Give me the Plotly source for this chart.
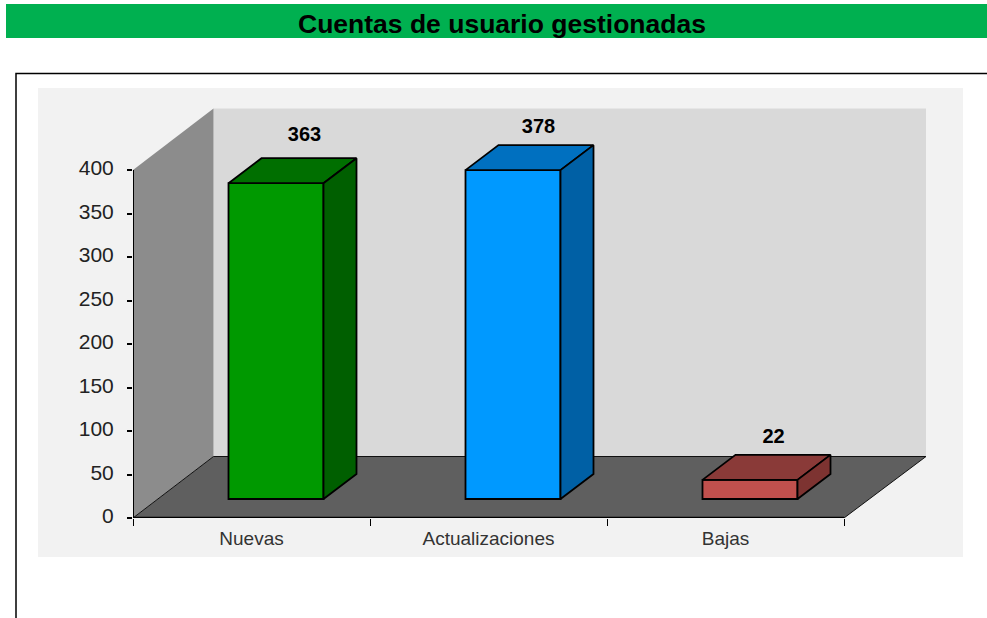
import plotly.graph_objects as go

categories = ["Nuevas", "Actualizaciones", "Bajas"]
values = [363, 378, 22]
front_colors = ["#009900", "#0099FF", "#C0504D"]
top_colors = ["#006F00", "#0070C0", "#8A3A38"]
side_colors = ["#005F00", "#0060A5", "#7D3331"]
y_ticks = [0, 50, 100, 150, 200, 250, 300, 350, 400]
title_text = "Cuentas de usuario gestionadas"

W, H = 987, 618
L, R, T, B = 133, 926, 108, 518
SLOT_PX, UNIT_PX = 237.0, 0.87

def dx(px):
    return px / SLOT_PX

def dy(px):
    return px / UNIT_PX

x_lo = -0.5
x_hi = x_lo + dx(R - L)
y_hi = dy(B - T)
y_max = max(y_ticks)
wall_dx, wall_dy = dx(80.5), dy(61.5)
bar_dx, bar_dy = dx(33), dy(25)
bar_w = dx(95)
x_end = x_lo + len(categories)
bar_shift_x = dx(24.5)
bar_shift_y = dy(19)
label_shift_x_px = [28.5, 25.5, 23.5]
label_lift_px = [12, 7, 7]

def paper_x(p):
    return (p - L) / (R - L)

def paper_y(p):
    return (B - p) / (B - T)

def poly(pts):
    return "M " + " L ".join(f"{a},{b}" for a, b in pts) + " Z"

fig = go.Figure()

shapes = [
    dict(type="rect", xref="paper", yref="paper", layer="below",
         x0=paper_x(38), x1=paper_x(963), y0=paper_y(557), y1=paper_y(88),
         fillcolor="#F2F2F2", line_width=0),
    dict(type="rect", xref="paper", yref="paper", layer="below",
         x0=paper_x(6), x1=paper_x(987), y0=paper_y(38), y1=paper_y(4),
         fillcolor="#00B050", line_width=0),
    dict(type="path", xref="paper", yref="paper", layer="below",
         path=poly([(paper_x(16), paper_y(618)), (paper_x(16), paper_y(73.5)),
                    (paper_x(987), paper_y(73.5))]).replace(" Z", ""),
         line=dict(color="#000000", width=1.5)),
    dict(type="path", xref="x", yref="y", layer="below",
         path=poly([(x_lo + wall_dx, wall_dy), (x_hi, wall_dy),
                    (x_hi, wall_dy + y_max), (x_lo + wall_dx, wall_dy + y_max)]),
         fillcolor="#D9D9D9", line_width=0),
    dict(type="path", xref="x", yref="y", layer="below",
         path=poly([(x_lo, 0), (x_lo + wall_dx, wall_dy),
                    (x_lo + wall_dx, wall_dy + y_max), (x_lo, y_max)]),
         fillcolor="#8C8C8C", line_width=0),
    dict(type="path", xref="x", yref="y", layer="below",
         path=poly([(x_lo, 0), (x_end, 0), (x_hi, wall_dy), (x_lo + wall_dx, wall_dy)]),
         fillcolor="#5F5F5F", line=dict(color="#111111", width=1)),
]

xs = [i + bar_shift_x for i in range(len(categories))]

fig.add_trace(go.Bar(
    x=xs, y=values, base=[bar_shift_y] * len(values), width=bar_w,
    marker=dict(color=front_colors, line=dict(color="#000000", width=1.8)),
    hoverinfo="skip", showlegend=False))

for x, v, tc, sc in zip(xs, values, top_colors, side_colors):
    x0, x1 = x - bar_w / 2, x + bar_w / 2
    y0, y1 = bar_shift_y, bar_shift_y + v
    fig.add_trace(go.Scatter(
        x=[x0, x1, x1 + bar_dx, x0 + bar_dx, x0],
        y=[y1, y1, y1 + bar_dy, y1 + bar_dy, y1],
        mode="lines", fill="toself", fillcolor=tc,
        line=dict(color="#000000", width=1.8), hoverinfo="skip", showlegend=False))
    fig.add_trace(go.Scatter(
        x=[x1, x1 + bar_dx, x1 + bar_dx, x1, x1],
        y=[y0, y0 + bar_dy, y1 + bar_dy, y1, y0],
        mode="lines", fill="toself", fillcolor=sc,
        line=dict(color="#000000", width=1.8), hoverinfo="skip", showlegend=False))

fig.add_trace(go.Scatter(
    x=[x + dx(s) for x, s in zip(xs, label_shift_x_px)],
    y=[v + bar_shift_y + bar_dy + dy(s) for v, s in zip(values, label_lift_px)],
    mode="text", text=[str(v) for v in values], textposition="top center",
    textfont=dict(family="Liberation Sans", size=20, color="#000000"),
    texttemplate="<b>%{text}</b>", hoverinfo="skip", showlegend=False, cliponaxis=False))

fig.add_trace(go.Scatter(
    x=[x_lo, x_lo], y=[y_max, 0], mode="lines",
    line=dict(color="#000000", width=2), hoverinfo="skip", showlegend=False, cliponaxis=False))
fig.add_trace(go.Scatter(
    x=[x_lo, x_end], y=[0, 0], mode="lines",
    line=dict(color="#000000", width=2.5), hoverinfo="skip", showlegend=False, cliponaxis=False))

fig.update_layout(
    width=W, height=H, autosize=False,
    margin=dict(l=L, r=W - R, t=T, b=H - B, pad=0),
    paper_bgcolor="#FFFFFF", plot_bgcolor="rgba(0,0,0,0)",
    shapes=shapes, showlegend=False,
    font=dict(family="Liberation Sans"),
    xaxis=dict(range=[x_lo, x_hi], showgrid=False, zeroline=False, showline=False,
               tickmode="array", tickvals=list(range(len(categories))), ticktext=categories,
               ticks="outside", ticklen=0, ticklabelstandoff=3,
               tickfont=dict(size=19, color="#333333"),
               minor=dict(tickmode="array",
                          tickvals=[x_lo + i for i in range(len(categories) + 1)],
                          ticks="outside", ticklen=7, tickcolor="#000000", tickwidth=1, showgrid=False)),
    yaxis=dict(range=[0, y_hi], showgrid=False, zeroline=False, showline=False,
               tickmode="array", tickvals=y_ticks, ticks="outside", ticklen=5,
               tickcolor="#000000", tickwidth=1.5, ticklabelstandoff=9, ticklabelshift=-2,
               tickfont=dict(size=21, color="#222222")),
    annotations=[dict(text=f"<b>{title_text}</b>", xref="paper", yref="paper",
                      x=paper_x(501.5), y=paper_y(23.5),
                      xanchor="center", yanchor="middle", showarrow=False,
                      font=dict(family="Liberation Sans", size=26.5, color="#000000"))],
)

fig.write_html("out.html", config=dict(displayModeBar=False),
               post_script="document.body.style.margin='0';document.body.style.overflow='hidden';")
